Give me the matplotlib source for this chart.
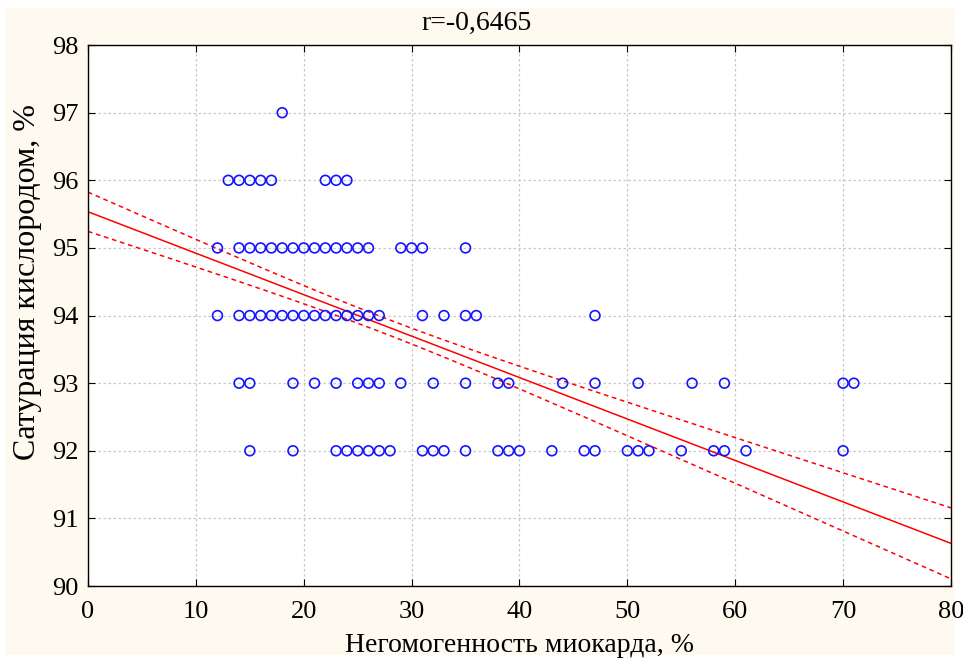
import numpy as np
import matplotlib
matplotlib.use("Agg")
import matplotlib.pyplot as plt
from matplotlib.patches import Rectangle

# points, grouped by saturation level
x97 = [18]
x96 = [13, 14, 15, 16, 17, 22, 23, 24]
x95 = [12, 14, 15, 16, 17, 18, 19, 20, 21, 22, 23, 24, 25, 26, 29, 30, 31, 35]
x94 = [12, 14, 15, 16, 17, 18, 19, 20, 21, 22, 23, 24, 25, 26, 27, 31, 33, 35, 36, 47]
x93 = [14, 15, 19, 21, 23, 25, 26, 27, 29, 32, 35, 38, 39, 44, 47, 51, 56, 59, 70, 71]
x92 = [15, 19, 23, 24, 25, 26, 27, 28, 31, 32, 33, 35, 38, 39, 40, 43, 46, 47,
       50, 51, 52, 55, 58, 59, 61, 70]

groups = {97: x97, 96: x96, 95: x95, 94: x94, 93: x93, 92: x92}
x = np.array([v for k in groups for v in groups[k]], dtype=float)
y = np.array([k for k in groups for v in groups[k]], dtype=float)

fit_intercept = 95.535
fit_slope = -0.0613
band_xmean = 27.4     # where the confidence band is narrowest
band_min = 0.114      # half-width there
band_at_80 = 0.525    # half-width at x = 80

title = "r=-0,6465"
xlabel = "Негомогенность миокарда, %"
ylabel = "Сатурация кислородом, %"

xs = np.linspace(0, 80, 200)
ys = fit_intercept + fit_slope * xs
hw = np.sqrt(band_min ** 2 + (band_at_80 ** 2 - band_min ** 2)
             * ((xs - band_xmean) / (80 - band_xmean)) ** 2)

plt.rcParams['font.family'] = ['Liberation Serif', 'DejaVu Serif']

fig = plt.figure(figsize=(9.63, 6.63), dpi=100, facecolor='white')
fig.patches.append(Rectangle((0.005, 0.012), 0.987, 0.976, transform=fig.transFigure,
                             facecolor='#fffaf0', edgecolor='none', zorder=-10))
ax = fig.add_axes([0.0914, 0.1161, 0.8961, 0.8159])
ax.set_facecolor('white')

ax.plot(xs, ys, color='red', lw=1.1)
ax.plot(xs, ys + hw, color='red', lw=1.1, ls=(0, (3, 2.5)))
ax.plot(xs, ys - hw, color='red', lw=1.1, ls=(0, (3, 2.5)))
ax.scatter(x, y, s=50, facecolors='none', edgecolors='#1414ff', linewidths=1.2, zorder=3)

ax.set_xlim(0, 80)
ax.set_ylim(90, 98)
ax.set_xticks(range(0, 81, 10))
ax.set_yticks(range(90, 99))
ax.grid(True, color='#c8c8c8', ls=(0, (2, 2)), lw=0.9)
ax.tick_params(direction='in', top=True, right=True, length=5, labelsize=19)
ax.tick_params(axis='x', pad=11)
ax.tick_params(axis='y', pad=7)
for sp in ax.spines.values():
    sp.set_linewidth(1.0)

fig.text(0.495, 0.965, title, fontsize=20, ha='center', va='center')
ax.set_xlabel(xlabel, fontsize=20)
ax.xaxis.set_label_coords(0.5, -0.087)
ax.set_ylabel(ylabel, fontsize=23)
ax.yaxis.set_label_coords(-0.053, 0.562)

fig.savefig("out.png", dpi=100, facecolor=fig.get_facecolor())
